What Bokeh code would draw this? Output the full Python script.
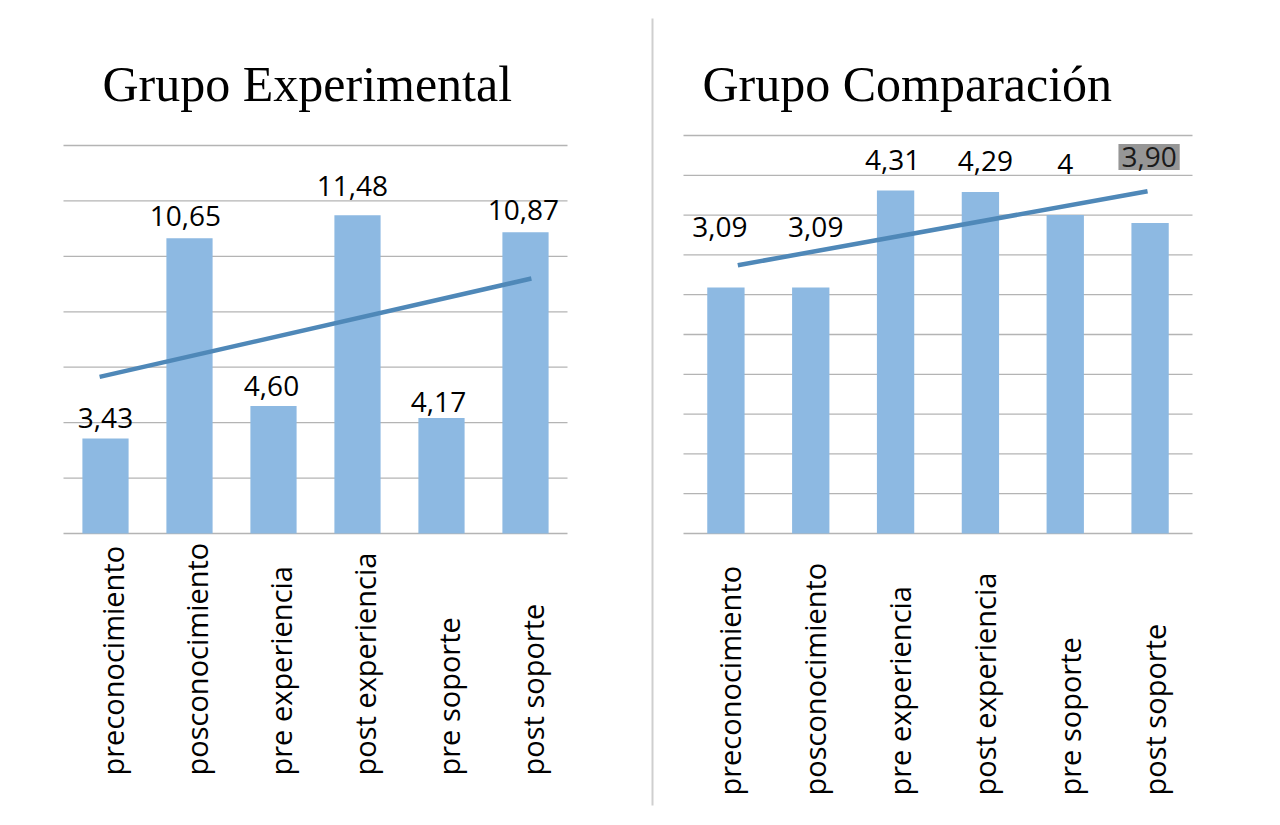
import numpy as np
from math import pi
from bokeh.plotting import figure
from bokeh.models import Range1d, LabelSet, Label, ColumnDataSource, BoxAnnotation
from bokeh.core.properties import value
from bokeh.embed import file_html
from bokeh.resources import INLINE

# ---------------- data ----------------
categories = ["preconocimiento", "posconocimiento", "pre experiencia",
              "post experiencia", "pre soporte", "post soporte"]

exp_values = [3.43, 10.65, 4.60, 11.48, 4.17, 10.87]
exp_labels = ["3,43", "10,65", "4,60", "11,48", "4,17", "10,87"]

comp_values = [3.09, 3.09, 4.31, 4.29, 4.00, 3.90]
comp_labels = ["3,09", "3,09", "4,31", "4,29", "4", "3,90"]

# linear trend lines (x in category-index units, centres at i+0.5)
exp_trend_x = [0.43, 5.57]
exp_trend_y = [5.65, 9.20]
comp_trend_x = [0.64, 5.47]
comp_trend_y = [3.37, 4.30]

exp_grid = [0, 2, 4, 6, 8, 10, 12, 14]
comp_grid = [0, 0.5, 1, 1.5, 2, 2.5, 3, 3.5, 4, 4.5, 5]

titles = ["Grupo Experimental", "Grupo Comparación"]

# ---------------- styles / layout ----------------
W, H = 1276, 821
BAR = "#8db9e2"
TREND = "#4f88b8"
GRID = "#b4b4b4"
FONT = "Open Sans"
SERIF = "Liberation Serif"

# pixel boxes of the two plotting areas (left, right, top, bottom)
LBOX = (63, 567, 145, 533)
RBOX = (683, 1192, 135, 533)


def ranges(n, ymax, box):
    x0, x1, yt, yb = box
    sx = (x1 - x0) / n
    sy = (yb - yt) / ymax
    return (Range1d(-x0 / sx, n + (W - x1) / sx),
            Range1d(-(H - yb) / sy, ymax + yt / sy))


n = len(categories)
xs = (np.arange(n) + 0.5).tolist()

lxr, lyr = ranges(n, max(exp_grid), LBOX)
rxr, ryr = ranges(n, max(comp_grid), RBOX)

p = figure(width=W, height=H, x_range=lxr, y_range=lyr,
           x_axis_location=None, y_axis_location=None, title_location=None,
           min_border=0, output_backend="svg", toolbar_location=None)
p.extra_x_ranges = {"cx": rxr}
p.extra_y_ranges = {"cy": ryr}
p.grid.visible = False
p.outline_line_color = None
p.background_fill_color = "white"
p.border_fill_color = "white"


def draw_panel(values, labels, tx, ty, grid, bar_w, lab_xo, lab_yo,
               axis_drop, axis_xo, title, title_x, xr=None, yr=None, highlight=None):
    kw = {}
    if xr:
        kw = dict(x_range_name=xr, y_range_name=yr)
    p.segment(x0=[0] * len(grid), x1=[n] * len(grid), y0=grid, y1=grid,
              line_color=GRID, line_width=1.3, **kw)
    p.vbar(x=xs, top=values, width=bar_w, fill_color=BAR, line_color=None, **kw)
    p.line(tx, ty, line_color=TREND, line_width=4.5, **kw)

    idx = [i for i in range(n) if i != highlight]
    src = ColumnDataSource(dict(
        x=[xs[i] for i in idx], y=[values[i] for i in idx],
        text=[labels[i] for i in idx],
        xo=[lab_xo[i] for i in idx], yo=[lab_yo[i] for i in idx]))
    p.add_layout(LabelSet(x="x", y="y", text="text", source=src,
                          x_offset="xo", y_offset="yo",
                          text_align="center", text_baseline="middle",
                          text_font=value(FONT), text_font_size="28px",
                          text_color="#000000", **kw))
    if highlight is not None:
        i = highlight
        p.add_layout(Label(x=xs[i], y=values[i], text=labels[i],
                           x_offset=lab_xo[i], y_offset=lab_yo[i],
                           text_align="center", text_baseline="middle",
                           text_font=FONT, text_font_size="28px",
                           text_color="#1a1a1a",
                           background_fill_color="#969696",
                           padding=3, **kw))

    cat_src = ColumnDataSource(dict(x=xs, y=[0] * n, text=categories))
    p.add_layout(LabelSet(x="x", y="y", text="text", source=cat_src,
                          x_offset=axis_xo, y_offset=-axis_drop, angle=pi / 2,
                          text_align="left", text_baseline="middle",
                          text_font=value(FONT), text_font_size="29px",
                          text_color="#000000", **kw))

    p.add_layout(Label(x=title_x, y=H - 83, x_units="screen", y_units="screen",
                       text=title, text_font=SERIF, text_font_size="50px",
                       text_color="#000000", text_baseline="alphabetic",
                       text_align="left"))


draw_panel(exp_values, exp_labels, exp_trend_x, exp_trend_y, exp_grid, 0.55,
           lab_xo=[0, -4, -2, -5, -3, -2], lab_yo=[20, 22, 20, 29, 16, 22],
           axis_drop=242, axis_xo=7, title=titles[0], title_x=102)

draw_panel(comp_values, comp_labels, comp_trend_x, comp_trend_y, comp_grid, 0.44,
           lab_xo=[-6, 5, -3, 5, 0, -1], lab_yo=[61, 61, 30, 31, 51, 66],
           axis_drop=262, axis_xo=4, title=titles[1], title_x=702,
           xr="cx", yr="cy", highlight=5)

# vertical separator between the two panels
p.add_layout(BoxAnnotation(left=651, right=653, bottom=H - 805, top=H - 18,
                           left_units="screen", right_units="screen",
                           bottom_units="screen", top_units="screen",
                           fill_color="#cfcfcf", fill_alpha=1, line_color=None))

open("out.html", "w").write(file_html(p, INLINE))
